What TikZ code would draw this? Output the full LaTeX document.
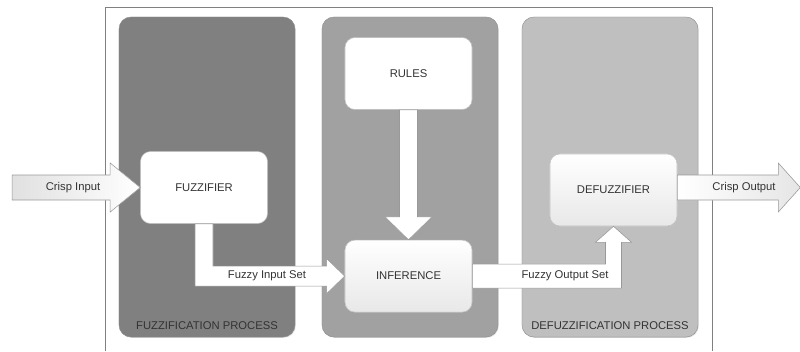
\documentclass[tikz,border=0pt]{standalone}
\usepackage{fontspec}
\setmainfont{Liberation Sans}
\usetikzlibrary{shapes.geometric, arrows, positioning, calc, shadows}
\tikzstyle{panel} = [rectangle, rounded corners=0.3cm, minimum width=4.4cm, minimum height=8cm, draw=black!45, line width=0.3pt, drop shadow={opacity=0.2, shadow xshift=0.6pt, shadow yshift=-0.6pt}]
\tikzstyle{unit} = [rectangle, rounded corners=0.25cm, minimum width=3.175cm, minimum height=1.8cm, text centered, draw=black!25, fill=white, text=black!80]
\tikzstyle{blockarrow} = [draw=black!40, line width=0.4pt, fill=white, line join=miter]
\tikzstyle{tag} = [text=black!80]

\begin{document}
\begin{tikzpicture}[x=0.025cm, y=-0.025cm, every node/.style={font=\fontsize{8}{10}\selectfont}]

\useasboundingbox (0,0) rectangle (800,351);
\draw[black!50, line width=0.5pt] (105,351) -- (105,7) -- (712,7) -- (712,351);

% process panels
\node (fuzpanel) [panel, fill=black!50] at (207,177) {};
\node (infpanel) [panel, fill=black!37] at (410,177) {};
\node (defpanel) [panel, fill=black!25] at (610,177) {};

\node (fuzlabel) [tag] at ($(fuzpanel.south)+(0,-12)$) {FUZZIFICATION PROCESS};
\node (deflabel) [tag] at ($(defpanel.south)+(0,-12)$) {DEFUZZIFICATION PROCESS};

% units
\node (fuzz) [unit] at (204,187.5) {FUZZIFIER};
\node (rules) [unit] at (408.5,73.5) {RULES};
\node (inf) [unit, below=3.25cm of rules, top color=white, bottom color=black!9] {INFERENCE};
\node (defuzz) [unit, top color=white, bottom color=black!9] at (613.5,190) {DEFUZZIFIER};

% block arrows
\draw [blockarrow, left color=black!12, right color=white] (fuzz.west) -- ++(-30,-24.5) -- ++(0,12) -- ++(-98,0) -- ++(0,25) -- ++(98,0) -- ++(0,12) -- cycle;
\draw [blockarrow, left color=white, right color=black!10] ($(defuzz.east)+(0,-15)$) -- ++(101,0) -- ++(0,-12) -- ++(22,24.5) -- ++(-22,24.5) -- ++(0,-12) -- ++(-101,0) -- cycle;
\draw [blockarrow] ($(rules.south)+(-9,0)$) |- ($(inf.north)+(-23.5,-23)$) -- (inf.north) -- ++(23.5,-23) -- ++(-14.5,0) |- ($(rules.south)+(9,0)$) -- cycle;
\draw [blockarrow] ($(fuzz.south)+(-9,0)$) |- ($(inf.west)+(-18,10)$) -- ++(0,7.5) -- (inf.west) -- ++(-18,-17.5) -- ++(0,7.5) -| ($(fuzz.south)+(9,0)$) -- cycle;
\draw [blockarrow] ($(inf.east)+(0,-12)$) -| ($(defuzz.south)+(-8,16)$) -- ++(-10,0) -- (defuzz.south) -- ++(18,16) -- ++(-10,0) |- ($(inf.east)+(0,12)$) -- cycle;

\node (crispin) [tag] at (73,187.5) {Crisp Input};
\node (crispout) [tag] at (744,187.5) {Crisp Output};
\node (fuzzyin) [tag] at (267,276) {Fuzzy Input Set};
\node (fuzzyout) [tag] at (565,276) {Fuzzy Output Set};

\end{tikzpicture}
\end{document}
